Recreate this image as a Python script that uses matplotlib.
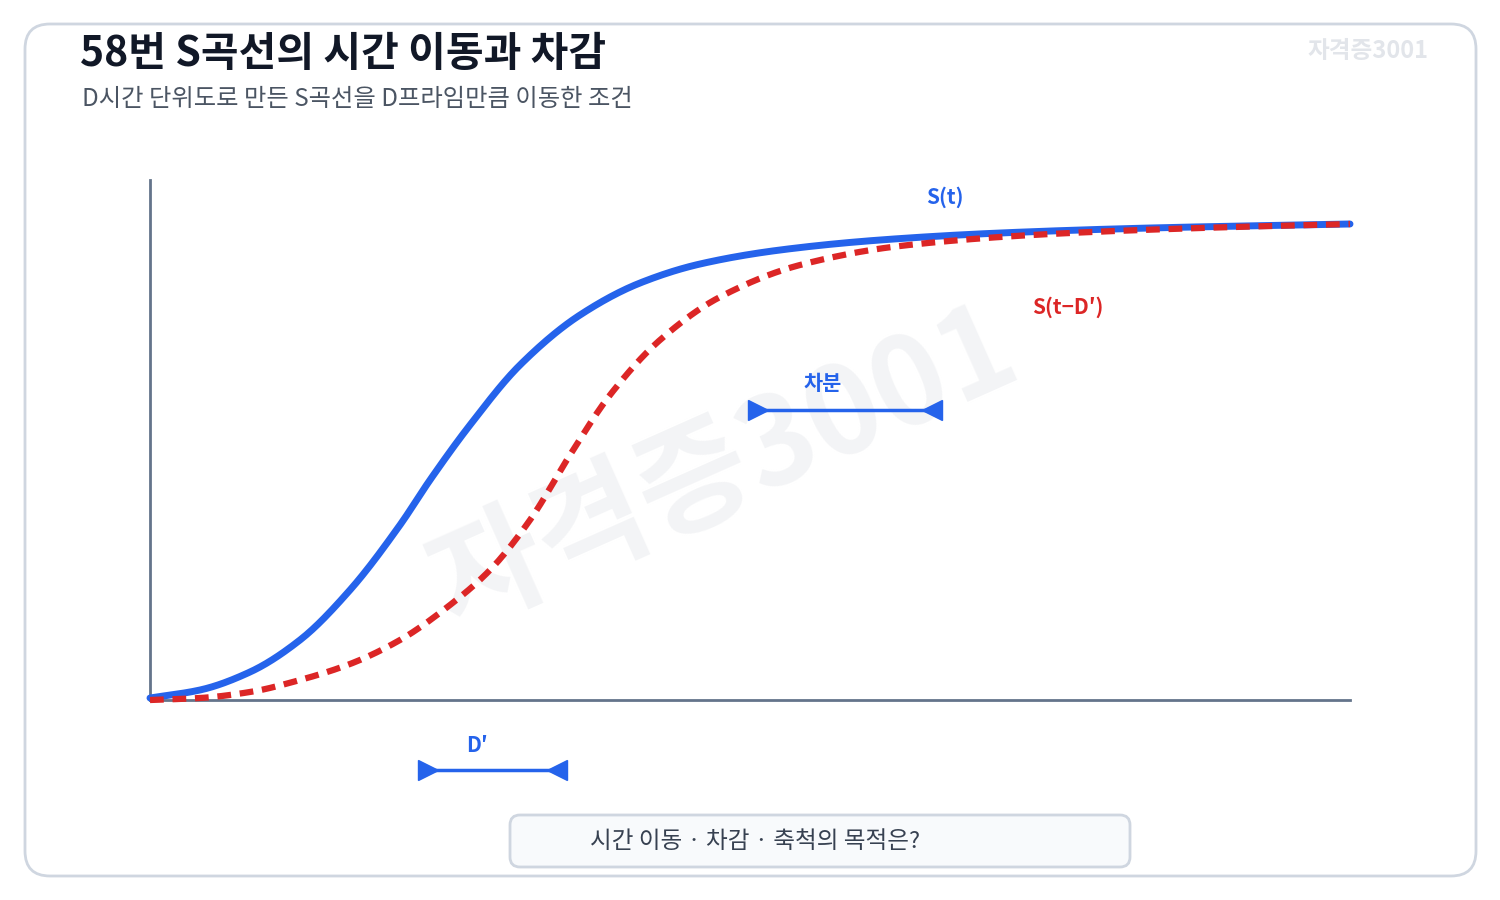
import matplotlib
matplotlib.use("Agg")
import matplotlib.pyplot as plt
import numpy as np
from matplotlib.patches import FancyBboxPatch

plt.rcParams['font.family'] = ['Noto Sans CJK KR', 'DejaVu Sans']

title = "58번 S곡선의 시간 이동과 차감"
subtitle = "D시간 단위도로 만든 S곡선을 D프라임만큼 이동한 조건"
question = "시간 이동 · 차감 · 축척의 목적은?"
watermark = "자격증3001"

# curve values (time axis 0..1200, value axis 0..476)
blue_t = [0, 50, 100, 150, 200, 250, 280, 320, 370, 430, 490, 550, 630, 730, 850, 1000, 1200]
blue_s = [2, 10, 28, 60, 110, 175, 220, 275, 335, 385, 417, 436, 450, 460, 467, 472, 476]
red_t = [0, 50, 100, 150, 200, 250, 300, 340, 380, 420, 460, 510, 570, 650, 750, 900, 1050, 1200]
red_s = [0, 2, 8, 20, 36, 60, 95, 130, 180, 245, 305, 360, 403, 435, 454, 466, 472, 476]


def pchip(x, y, n=600):
    x = np.asarray(x, float); y = np.asarray(y, float)
    h = np.diff(x); d = np.diff(y) / h
    m = np.zeros_like(x)
    for k in range(1, len(x) - 1):
        if d[k - 1] * d[k] > 0:
            w1 = 2 * h[k] + h[k - 1]; w2 = h[k] + 2 * h[k - 1]
            m[k] = (w1 + w2) / (w1 / d[k - 1] + w2 / d[k])
    m[0] = d[0]; m[-1] = d[-1]
    xs = np.linspace(x[0], x[-1], n)
    i = np.clip(np.searchsorted(x, xs) - 1, 0, len(h) - 1)
    t = (xs - x[i]) / h[i]
    h00 = 2 * t**3 - 3 * t**2 + 1; h10 = t**3 - 2 * t**2 + t
    h01 = -2 * t**3 + 3 * t**2; h11 = t**3 - t**2
    ys = h00 * y[i] + h10 * h[i] * m[i] + h01 * y[i + 1] + h11 * h[i] * m[i + 1]
    return xs, ys


X0, Y0 = 150, 700
fig = plt.figure(figsize=(15, 9), dpi=100)
ax = fig.add_axes([0, 0, 1, 1])
ax.set_xlim(0, 1500); ax.set_ylim(900, 0); ax.axis('off')

ax.add_patch(FancyBboxPatch((25, 24), 1451, 852, boxstyle="round,pad=0,rounding_size=25",
                            fc='white', ec='#cfd6e0', lw=2, zorder=0))
ax.text(80, 54, title, fontsize=29.5, fontweight='bold', color='#111827', va='center')
ax.text(82, 99, subtitle, fontsize=17.5, color='#4b5563', va='center')
ax.text(1428, 51, watermark, fontsize=17, fontweight='bold', color='#e2e5ea', va='center', ha='right')
ax.text(725, 470, watermark, fontsize=88, fontweight='bold', color='#e5e7eb', alpha=0.45,
        rotation=24, ha='center', va='center', zorder=1)

ax.plot([150, 150], [180, 700], color='#64748b', lw=2, zorder=2)
ax.plot([150, 1350], [700, 700], color='#64748b', lw=2, zorder=2)

bx, by = pchip(blue_t, blue_s)
rx, ry = pchip(red_t, red_s)
ax.plot(X0 + bx, Y0 - by, color='#2563eb', lw=5, solid_capstyle='round', zorder=3)
ax.plot(X0 + rx, Y0 - ry, color='#dc2626', lw=4.5, ls=(0, (2.2, 1.4)), zorder=4)

ax.text(945, 197, "S(t)", color='#2563eb', fontsize=15, fontweight='bold', ha='center', va='center')
ax.text(1068, 307, "S(t−D′)", color='#dc2626', fontsize=15, fontweight='bold', ha='center', va='center')

for (xa, xb, y, lab, lx, ly) in [(750, 940, 410, "차분", 823, 384), (420, 565, 770, "D′", 477, 746)]:
    ax.plot([xa, xb], [y, y], color='#2563eb', lw=2.5, zorder=3)
    ax.plot([xa + 8], [y], marker='>', color='#2563eb', ms=14, zorder=3)
    ax.plot([xb - 8], [y], marker='<', color='#2563eb', ms=14, zorder=3)
    ax.text(lx, ly, lab, color='#2563eb', fontsize=15, fontweight='bold', ha='center', va='center')

ax.add_patch(FancyBboxPatch((510, 815), 620, 52, boxstyle="round,pad=0,rounding_size=10",
                            fc='#f8fafc', ec='#cfd6e0', lw=2))
ax.text(755, 841, question, fontsize=17, color='#374151', ha='center', va='center')

fig.savefig("out.png", dpi=100)
